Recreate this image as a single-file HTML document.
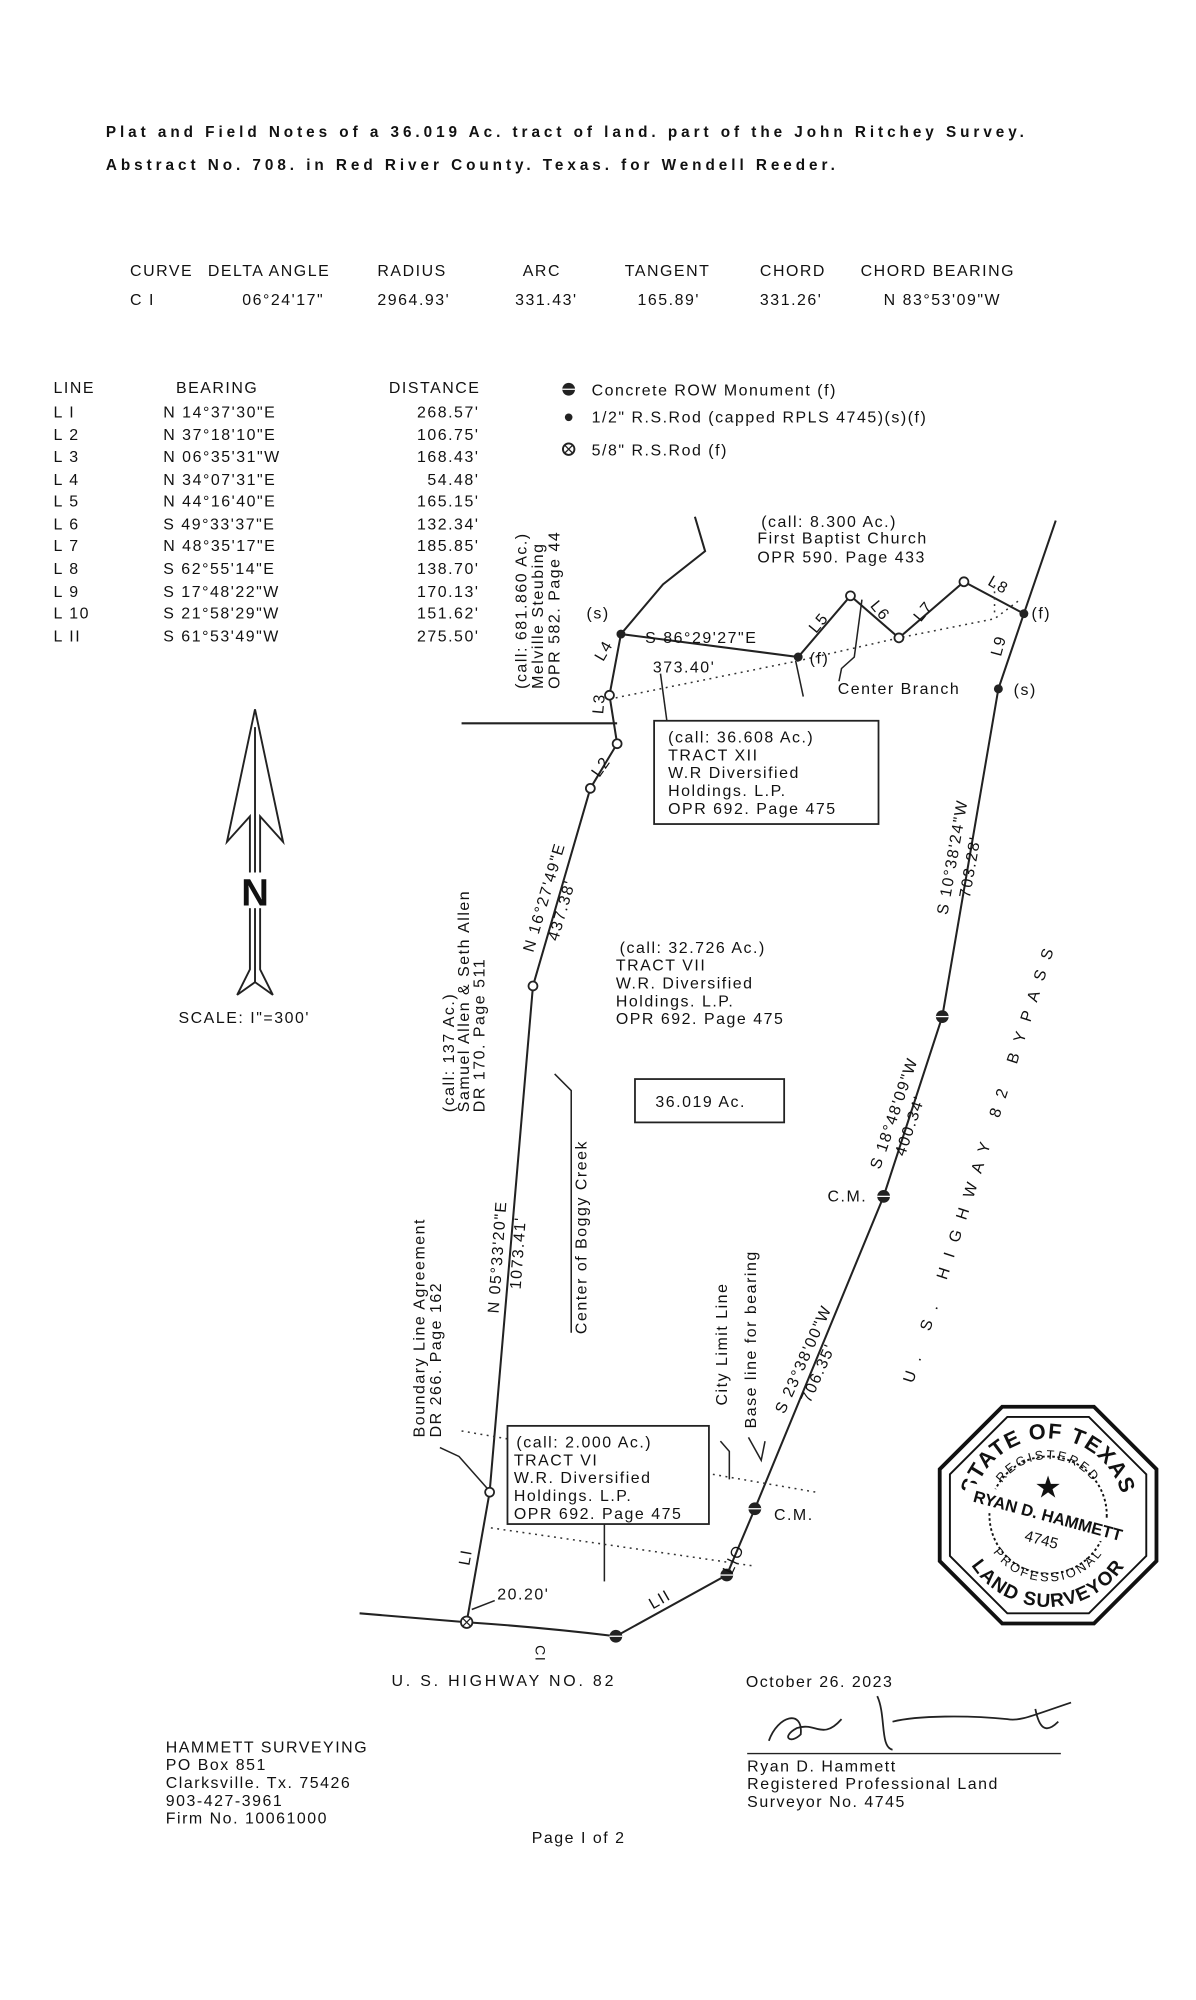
<!DOCTYPE html>
<html><head><meta charset="utf-8"><style>
html,body{margin:0;padding:0;background:#fff;}
svg{display:block;}
text{font-family:"Liberation Sans",sans-serif;fill:#111;}
.t{font-size:12px;letter-spacing:3.1px;}
.m{font-size:12.5px;letter-spacing:1.2px;}
</style></head><body>
<svg width="1196" height="2000" viewBox="0 0 938 1568" xmlns="http://www.w3.org/2000/svg">
<rect width="938" height="1568" fill="#fff"/>
<!-- title -->
<text class="t" x="83" y="107" font-weight="bold">Plat and Field Notes of a 36.019 Ac. tract of land. part of the John Ritchey Survey.</text>
<text class="t" x="83" y="133" font-weight="bold">Abstract No. 708. in Red River County. Texas. for Wendell Reeder.</text>
<!-- curve table -->
<text class="m" x="102" y="216">CURVE</text><text class="m" x="163" y="216">DELTA ANGLE</text><text class="m" x="296" y="216">RADIUS</text><text class="m" x="410" y="216">ARC</text><text class="m" x="490" y="216">TANGENT</text><text class="m" x="596" y="216">CHORD</text><text class="m" x="675" y="216">CHORD BEARING</text>
<text class="m" x="102" y="239">C I</text><text class="m" x="190" y="239">06°24'17"</text><text class="m" x="296" y="239">2964.93'</text><text class="m" x="404" y="239">331.43'</text><text class="m" x="500" y="239">165.89'</text><text class="m" x="596" y="239">331.26'</text><text class="m" x="693" y="239">N 83°53'09"W</text>
<!-- line table -->
<text class="m" x="42" y="308">LINE</text><text class="m" x="138" y="308">BEARING</text><text class="m" x="305" y="308">DISTANCE</text>
<text class="m" x="42" y="327">L I</text><text class="m" x="128" y="327">N 14°37'30"E</text><text class="m" x="376" y="327" text-anchor="end">268.57'</text>
<text class="m" x="42" y="345">L 2</text><text class="m" x="128" y="345">N 37°18'10"E</text><text class="m" x="376" y="345" text-anchor="end">106.75'</text>
<text class="m" x="42" y="362">L 3</text><text class="m" x="128" y="362">N 06°35'31"W</text><text class="m" x="376" y="362" text-anchor="end">168.43'</text>
<text class="m" x="42" y="380">L 4</text><text class="m" x="128" y="380">N 34°07'31"E</text><text class="m" x="376" y="380" text-anchor="end">54.48'</text>
<text class="m" x="42" y="397">L 5</text><text class="m" x="128" y="397">N 44°16'40"E</text><text class="m" x="376" y="397" text-anchor="end">165.15'</text>
<text class="m" x="42" y="415">L 6</text><text class="m" x="128" y="415">S 49°33'37"E</text><text class="m" x="376" y="415" text-anchor="end">132.34'</text>
<text class="m" x="42" y="432">L 7</text><text class="m" x="128" y="432">N 48°35'17"E</text><text class="m" x="376" y="432" text-anchor="end">185.85'</text>
<text class="m" x="42" y="450">L 8</text><text class="m" x="128" y="450">S 62°55'14"E</text><text class="m" x="376" y="450" text-anchor="end">138.70'</text>
<text class="m" x="42" y="468">L 9</text><text class="m" x="128" y="468">S 17°48'22"W</text><text class="m" x="376" y="468" text-anchor="end">170.13'</text>
<text class="m" x="42" y="485">L 10</text><text class="m" x="128" y="485">S 21°58'29"W</text><text class="m" x="376" y="485" text-anchor="end">151.62'</text>
<text class="m" x="42" y="503">L II</text><text class="m" x="128" y="503">S 61°53'49"W</text><text class="m" x="376" y="503" text-anchor="end">275.50'</text>
<!-- legend -->
<circle cx="446" cy="305" r="5" fill="#222"/><line x1="441" y1="305" x2="451" y2="305" stroke="#fff" stroke-width="1"/>
<text class="m" x="464" y="310">Concrete ROW Monument (f)</text>
<circle cx="446" cy="327" r="3" fill="#222"/>
<text class="m" x="464" y="331">1/2" R.S.Rod (capped RPLS 4745)(s)(f)</text>
<circle cx="446" cy="352" r="4.5" fill="none" stroke="#222" stroke-width="1.5"/><path d="M443 349 L449 355 M449 349 L443 355" stroke="#222"/>
<text class="m" x="464" y="357">5/8" R.S.Rod (f)</text>

<!-- north arrow -->
<g stroke="#222" stroke-width="1.5" fill="none">
<path d="M200 556 L178 660 L196 640 L196 760 L186 780 L200 770 L214 780 L204 760 L204 640 L222 660 Z"/>
<path d="M200 570 L200 770"/>
</g>
<rect x="188" y="684" width="24" height="28" fill="#fff"/>
<text x="200" y="710" text-anchor="middle" style="font-size:30px;font-weight:bold">N</text>
<text class="m" x="140" y="802">SCALE: I"=300'</text>

<!-- boundary lines -->
<g stroke="#222" stroke-width="1.6" fill="none">
<polyline points="366,1272 384,1170 418,773 463,618 484,583 478,545 487,497 626,515 667,467 705,500 756,456 803,481 783,540 739,797 693,938 592,1183 570,1235 483,1283"/>
<path d="M483,1283 Q425,1276 366,1272"/>
<line x1="282" y1="1265" x2="366" y2="1272"/>
<line x1="803" y1="481" x2="828" y2="408"/>
<polyline points="487,497 520,458 553,432 545,405"/>
<line x1="362" y1="567" x2="484" y2="567"/>
</g>
<g stroke="#222" stroke-width="1.2" fill="none">
<polyline points="518,528 523,565"/>
<polyline points="624,518 630,546"/>
<polyline points="676,470 670,515 660,524 658,534"/>
<polyline points="435,842 448,855 448,1045"/>
<polyline points="565,1130 572,1138 572,1160"/>
<polyline points="587,1127 597,1145 600,1130"/>
<polyline points="345,1135 360,1142 383,1168"/>
<polyline points="474,1195 474,1240"/>
<polyline points="388,1255 370,1262"/>
</g>
<g stroke="#333" stroke-width="1.2" fill="none" stroke-dasharray="1.5,3.5">
<polyline points="478,548 626,518 705,500 780,485 800,470"/>
<line x1="780" y1="480" x2="780" y2="455"/>
<line x1="362" y1="1122" x2="640" y2="1170"/>
<line x1="385" y1="1198" x2="592" y2="1228"/>
</g>
<!-- monuments -->
<g fill="#fff" stroke="#222" stroke-width="1.4">
<circle cx="384" cy="1170" r="3.5"/><circle cx="418" cy="773" r="3.5"/><circle cx="463" cy="618" r="3.5"/><circle cx="484" cy="583" r="3.5"/><circle cx="478" cy="545" r="3.5"/>
<circle cx="667" cy="467" r="3.5"/><circle cx="705" cy="500" r="3.5"/><circle cx="756" cy="456" r="3.5"/>
<circle cx="366" cy="1272" r="4.5"/>
</g>
<path d="M363 1269 L369 1275 M369 1269 L363 1275" stroke="#222"/>
<g fill="#222">
<circle cx="487" cy="497" r="3.5"/><circle cx="626" cy="515" r="3.5"/><circle cx="803" cy="481" r="3.5"/><circle cx="783" cy="540" r="3.5"/>
<circle cx="739" cy="797" r="5"/><circle cx="693" cy="938" r="5"/><circle cx="592" cy="1183" r="5"/><circle cx="570" cy="1235" r="5"/><circle cx="483" cy="1283" r="5"/>
</g>
<g stroke="#fff" stroke-width="1"><line x1="734" y1="797" x2="744" y2="797"/><line x1="688" y1="938" x2="698" y2="938"/><line x1="587" y1="1183" x2="597" y2="1183"/><line x1="565" y1="1235" x2="575" y2="1235"/><line x1="478" y1="1283" x2="488" y2="1283"/></g>

<!-- labels -->
<text class="m" x="460" y="485">(s)</text>
<text class="m" x="506" y="504">S 86°29'27"E</text>
<text class="m" x="512" y="527">373.40'</text>
<text class="m" x="635" y="520">(f)</text>
<text class="m" x="809" y="485">(f)</text>
<text class="m" x="657" y="544">Center Branch</text><text class="m" x="795" y="545">(s)</text>
<text class="m" x="597" y="413">(call: 8.300 Ac.)</text>
<text class="m" x="594" y="426">First Baptist Church</text>
<text class="m" x="594" y="441">OPR 590. Page 433</text>
<text class="m" x="473" y="519" transform="rotate(-60 473 519)">L4</text>
<text class="m" x="473" y="560" transform="rotate(-85 473 560)">L3</text>
<text class="m" x="470" y="610" transform="rotate(-55 470 610)">L2</text>
<text class="m" x="640" y="497" transform="rotate(-50 640 497)">L5</text>
<text class="m" x="682" y="475" transform="rotate(50 682 475)">L6</text>
<text class="m" x="722" y="488" transform="rotate(-50 722 488)">L7</text>
<text class="m" x="774" y="458" transform="rotate(30 774 458)">L8</text>
<text class="m" x="785" y="515" transform="rotate(-75 785 515)">L9</text>
<text class="m" x="574" y="1235" transform="rotate(-65 574 1235)">LIO</text>
<text class="m" x="512" y="1262" transform="rotate(-30 512 1262)">LII</text>
<text class="m" x="368" y="1228" transform="rotate(-80 368 1228)">LI</text>
<text class="m" x="420" y="1290" transform="rotate(90 420 1290)" style="font-size:11px">CI</text>
<text class="m" x="390" y="1254">20.20'</text>
<text class="m" x="307" y="1322" style="letter-spacing:2.2px">U. S. HIGHWAY NO. 82</text>
<text class="m" x="649" y="942">C.M.</text>
<text class="m" x="607" y="1192">C.M.</text>
<text class="m" x="486" y="747">(call: 32.726 Ac.)</text>
<text class="m" x="483" y="761">TRACT VII</text>
<text class="m" x="483" y="775">W.R. Diversified</text>
<text class="m" x="483" y="789">Holdings. L.P.</text>
<text class="m" x="483" y="803">OPR 692. Page 475</text>
<rect x="513" y="565" width="176" height="81" fill="none" stroke="#222" stroke-width="1.4"/>
<text class="m" x="524" y="582">(call: 36.608 Ac.)</text>
<text class="m" x="524" y="596">TRACT XII</text>
<text class="m" x="524" y="610">W.R Diversified</text>
<text class="m" x="524" y="624">Holdings. L.P.</text>
<text class="m" x="524" y="638">OPR 692. Page 475</text>
<rect x="498" y="846" width="117" height="34" fill="none" stroke="#222" stroke-width="1.4"/>
<text class="m" x="514" y="868">36.019 Ac.</text>
<rect x="398" y="1118" width="158" height="77" fill="#fff" stroke="#222" stroke-width="1.4"/>
<text class="m" x="405" y="1135">(call: 2.000 Ac.)</text>
<text class="m" x="403" y="1149">TRACT VI</text>
<text class="m" x="403" y="1163">W.R. Diversified</text>
<text class="m" x="403" y="1177">Holdings. L.P.</text>
<text class="m" x="403" y="1191">OPR 692. Page 475</text>

<!-- rotated labels -->
<g transform="translate(413,540) rotate(-90)"><text class="m" x="0" y="0">(call: 681.860 Ac.)</text><text class="m" x="0" y="13">Melville Steubing</text><text class="m" x="0" y="26">OPR 582. Page 44</text></g>
<g transform="translate(356,872) rotate(-90)"><text class="m" x="0" y="0">(call: 137 Ac.)</text><text class="m" x="0" y="12">Samuel Allen &amp; Seth Allen</text><text class="m" x="0" y="24">DR 170. Page 511</text></g>
<g transform="translate(333,1127) rotate(-90)"><text class="m" x="0" y="0">Boundary Line Agreement</text><text class="m" x="0" y="13">DR 266. Page 162</text></g>
<g transform="translate(391,1030) rotate(-86)"><text class="m" x="0" y="0">N 05°33'20"E</text><text class="m" x="20" y="16">1073.41'</text></g>
<text class="m" x="460" y="1046" transform="rotate(-90 460 1046)">Center of Boggy Creek</text>
<text class="m" x="570" y="1102" transform="rotate(-90 570 1102)">City Limit Line</text>
<text class="m" x="593" y="1120" transform="rotate(-90 593 1120)">Base line for bearing</text>
<g transform="translate(421,748) rotate(-73.5)"><text class="m" x="0" y="-3">N 16°27'49"E</text><text class="m" x="14" y="13">437.38'</text></g>
<g transform="translate(745,718) rotate(-80)"><text class="m" x="0" y="-2">S 10°38'24"W</text><text class="m" x="16" y="13">703.28'</text></g>
<g transform="translate(692,918) rotate(-71)"><text class="m" x="0" y="-2">S 18°48'09"W</text><text class="m" x="16" y="13">400.34'</text></g>
<g transform="translate(617,1110) rotate(-66)"><text class="m" x="0" y="-2">S 23°38'00"W</text><text class="m" x="16" y="13">706.35'</text></g>
<text x="0" y="0" transform="translate(716,1085) rotate(-72)" style="font-size:12.5px;letter-spacing:9px">U. S. HIGHWAY 82 BYPASS</text>

<!-- seal -->
<g transform="translate(822,1188)">
<polygon points="-36,-85 36,-85 85,-36 85,36 36,85 -36,85 -85,36 -85,-36" fill="none" stroke="#111" stroke-width="3"/>
<polygon points="-32,-77 32,-77 77,-32 77,32 32,77 -32,77 -77,32 -77,-32" fill="none" stroke="#111" stroke-width="1.5"/>
<defs>
<path id="topArc" d="M-60,0 A60,60 0 0 1 60,0"/>
<path id="topArc2" d="M-44,0 A44,44 0 0 1 44,0"/>
<path id="botArc" d="M-72,0 A72,72 0 0 0 72,0"/>
<path id="botArc2" d="M-52,0 A52,52 0 0 0 52,0"/>
</defs>
<circle r="46" fill="none" stroke="#111" stroke-width="1.5" stroke-dasharray="2,2"/>
<text style="font-size:17px;font-weight:bold;letter-spacing:1px"><textPath href="#topArc" startOffset="50%" text-anchor="middle">STATE OF TEXAS</textPath></text>
<text style="font-size:10px;letter-spacing:2px"><textPath href="#topArc2" startOffset="50%" text-anchor="middle">REGISTERED</textPath></text>
<text style="font-size:15px;font-weight:bold;letter-spacing:1px"><textPath href="#botArc" startOffset="50%" text-anchor="middle">LAND SURVEYOR</textPath></text>
<text style="font-size:10px;letter-spacing:2px"><textPath href="#botArc2" startOffset="50%" text-anchor="middle">PROFESSIONAL</textPath></text>
<text x="0" y="-14" text-anchor="middle" style="font-size:24px">★</text>
<g transform="rotate(15)"><rect x="-68" y="-9" width="136" height="18" fill="#fff"/><text x="0" y="5" text-anchor="middle" style="font-size:13px;font-weight:bold">RYAN D. HAMMETT</text><text x="0" y="24" text-anchor="middle" style="font-size:12px">4745</text></g>
</g>

<!-- signature -->
<text class="m" x="585" y="1323">October 26. 2023</text>
<path d="M603 1365 C610 1345 630 1340 628 1360 C620 1368 612 1362 625 1355 C640 1350 645 1365 660 1348 M688 1330 C695 1345 690 1370 700 1372 M700 1350 C720 1345 760 1345 790 1348 C800 1350 810 1345 840 1335 M812 1340 C815 1355 820 1360 830 1350" stroke="#222" stroke-width="1.4" fill="none"/>
<line x1="586" y1="1375" x2="832" y2="1375" stroke="#222" stroke-width="1"/>
<text class="m" x="586" y="1389">Ryan D. Hammett</text>
<text class="m" x="586" y="1403">Registered Professional Land</text>
<text class="m" x="586" y="1417">Surveyor No. 4745</text>
<text class="m" x="130" y="1374">HAMMETT SURVEYING</text>
<text class="m" x="130" y="1388">PO Box 851</text>
<text class="m" x="130" y="1402">Clarksville. Tx. 75426</text>
<text class="m" x="130" y="1416">903-427-3961</text>
<text class="m" x="130" y="1430">Firm No. 10061000</text>
<text class="m" x="417" y="1445">Page I of 2</text>
</svg>
</body></html>
